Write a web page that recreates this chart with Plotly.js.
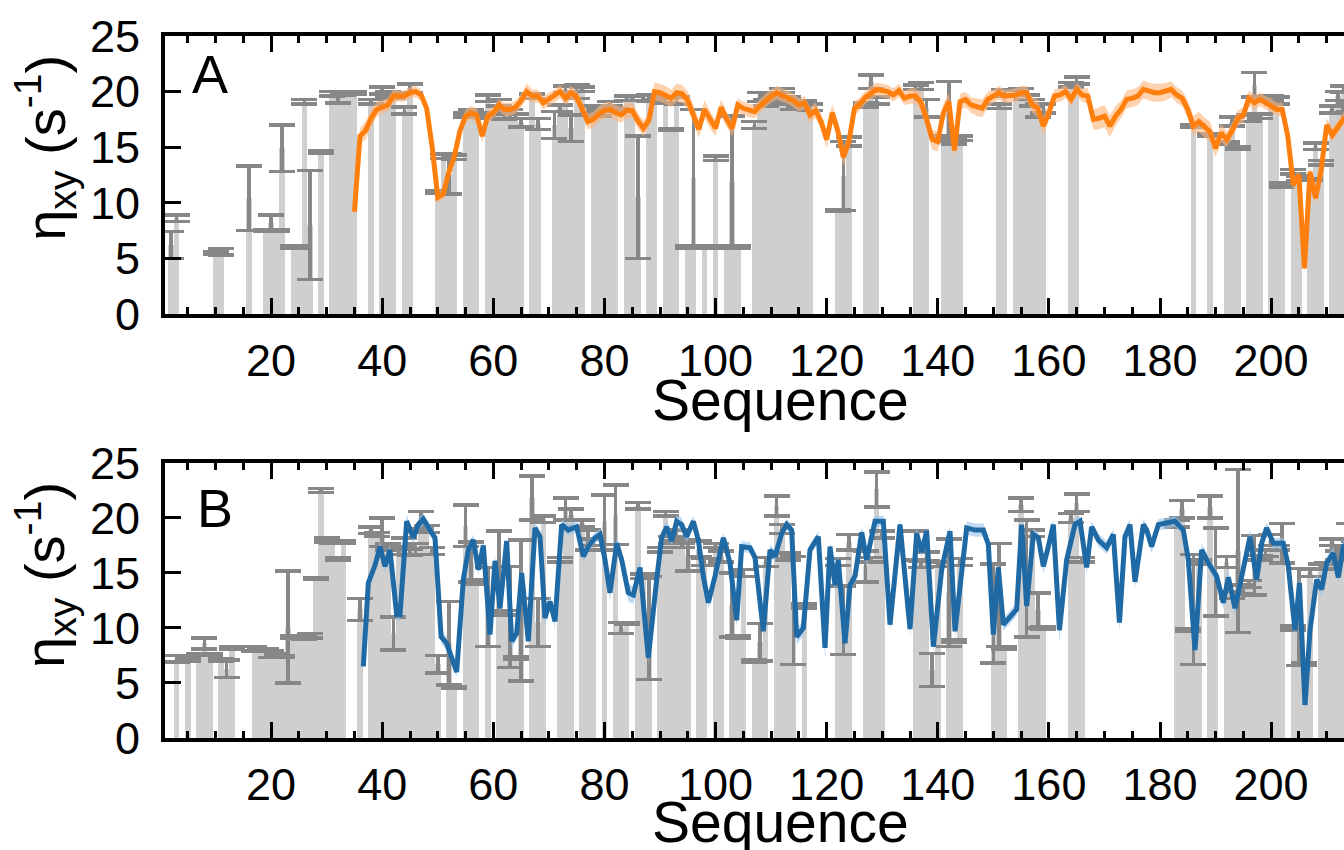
<!DOCTYPE html>
<html><head><meta charset="utf-8">
<script src="https://cdn.plot.ly/plotly-3.0.1.min.js"></script>
<style>html,body{margin:0;padding:0;overflow:hidden;background:#fff}#chart{width:1400px;height:850px}</style>
</head><body><div id="chart"></div>
<script>
// ---------- Panel A : bars ----------
const barSeqA = [2,3,10,11,16,19,20,21,22,24,25,26,27,29,31,32,33,34,35,38,40,41,42,44,45,50,51,52,53,55,56,57,59,60,61,62,63,64,65,67,68,71,72,73,74,75,76,78,79,80,81,82,84,85,86,88,89,91,92,93,95,96,98,100,102,103,104,107,108,109,110,111,112,113,114,115,116,117,122,123,124,127,128,129,136,137,138,141,142,143,144,151,152,154,155,156,157,158,159,164,165,186,189,192,193,194,196,197,198,200,201,202,204,205,207,208,209,211,212,213,214,215];
const barValA = [6.2,8.6,5.5,5.6,10.4,7.5,8.2,7.5,14.9,6.0,6.0,19.1,8.0,14.6,19.8,19.5,19.8,19.9,19.9,19.1,20.1,19.8,19.6,18.3,20.3,11.0,14.2,12.6,14.1,17.9,18.1,17.9,19.4,17.8,19.0,17.8,18.0,17.8,17.2,19.6,17.1,17.0,18.5,20.2,16.7,20.0,20.2,18.4,18.1,18.4,18.9,18.4,19.4,19.4,10.5,19.4,19.5,19.2,16.6,19.2,6.0,12.2,6.0,14.0,6.0,11.9,6.0,17.0,19.5,19.0,19.4,19.2,20.1,19.3,18.7,18.9,19.0,18.6,9.3,12.4,15.5,18.8,20.9,19.2,20.4,20.5,18.5,15.9,18.2,15.6,15.8,18.7,19.9,19.9,20.0,19.5,19.0,18.3,18.5,20.6,21.0,16.9,16.1,15.4,17.3,14.9,17.6,20.6,17.8,19.4,19.2,11.6,12.8,12.2,12.1,15.1,13.6,18.4,19.6,20.2,18.6,18.2];
const barErrA = [1.2,0.3,0.1,0.3,2.9,0.1,0.7,0.1,2.1,0.1,0.1,0.2,4.9,0.1,0.2,0.5,0.1,0.1,0.1,0.2,0.3,0.2,0.2,0.3,0.4,0.1,0.2,1.8,0.2,0.2,0.3,0.2,0.3,0.2,0.3,0.3,0.4,0.2,0.4,0.2,0.5,1.2,0.3,0.3,1.2,0.6,0.2,0.3,0.3,0.2,0.2,0.1,0.2,0.2,5.5,0.3,0.2,0.2,0.1,0.3,0.1,6.2,0.1,0.2,0.1,5.9,0.1,0.3,0.4,0.3,0.2,0.3,0.2,0.2,0.3,0.2,0.2,0.3,0.1,3.1,0.4,0.2,0.6,0.3,0.2,0.3,0.8,0.1,2.7,0.3,0.2,0.2,0.3,0.2,0.3,0.2,0.3,0.6,0.4,0.2,0.3,0.1,0.1,0.1,0.4,0.1,0.3,1.1,0.2,0.2,0.3,0.2,0.2,0.2,0.1,0.3,0.2,0.3,0.4,0.3,0.4,0.3];

// ---------- Panel A : orange line (residues from 35) ----------
const lineAFirstResidue = 35;
const lineAVal = [
 9.2,16.0,16.5,17.6,18.4,18.6,18.8,19.6,19.6,19.6,
 19.9,20.0,19.7,18.5,15.0,10.5,10.8,12.8,14.2,16.5,
 17.8,18.1,17.9,16.0,17.8,18.1,18.8,18.4,18.4,18.6,
 19.2,20.0,19.6,19.6,19.0,19.3,19.6,20.0,19.4,19.9,
 19.5,18.5,17.3,17.5,18.0,18.3,18.4,18.1,17.9,18.3,
 18.3,17.4,16.7,17.4,20.0,19.9,19.7,19.4,19.9,19.8,
 19.2,18.0,16.6,18.4,17.5,16.7,18.6,17.5,16.7,18.8,
 18.5,18.3,18.2,18.7,19.2,19.6,19.9,19.7,19.5,19.2,
 18.8,19.0,17.9,18.3,17.3,15.7,18.1,16.5,14.1,15.5,
 18.5,18.9,19.5,19.9,20.2,20.1,20.0,19.7,20.1,19.4,
 19.6,19.6,19.0,17.5,15.7,15.5,18.1,19.1,14.7,19.1,
 19.3,18.8,18.6,18.5,19.3,19.6,19.9,19.6,19.6,19.7,
 19.9,19.9,18.8,18.5,16.9,18.1,19.6,19.7,20.0,19.3,
 20.2,19.7,19.6,17.5,17.6,17.8,16.9,17.8,18.4,19.3,
 19.4,19.6,20.2,20.0,19.9,19.9,20.0,20.2,19.7,19.4,
 18.4,16.9,17.3,16.8,16.4,14.9,16.3,15.7,16.5,17.6,
 17.9,19.4,19.0,19.3,19.0,18.8,18.4,18.4,16.0,11.6,
 12.5,4.1,12.8,10.4,12.9,17.0,16.1,16.8,17.5,18.0,18.3];
const lineABand = [
 0.6,0.7,0.8,0.8,0.7,0.6,0.6,0.6,0.5,0.5,
 0.5,0.5,0.5,0.6,0.6,0.5,0.5,0.6,0.6,0.6,
 0.6,0.6,0.6,0.6,0.6,0.5,0.5,0.6,0.6,0.6,
 0.6,0.7,0.6,0.6,0.6,0.6,0.6,0.6,0.6,0.6,
 0.6,0.7,0.7,0.7,0.7,0.7,0.7,0.7,0.7,0.7,
 0.7,0.7,0.7,0.7,0.8,0.8,0.8,0.8,0.8,0.8,
 0.8,0.8,0.8,0.8,0.8,0.7,0.7,0.7,0.7,0.6,
 0.6,0.6,0.6,0.6,0.6,0.6,0.6,0.6,0.6,0.6,
 0.6,0.6,0.7,0.7,0.7,0.8,0.8,0.8,0.8,0.7,
 0.6,0.6,0.6,0.6,0.6,0.6,0.6,0.6,0.6,0.6,
 0.7,0.7,0.8,0.9,0.9,0.9,0.8,0.8,0.7,0.7,
 0.7,0.7,0.8,0.8,0.7,0.6,0.6,0.6,0.6,0.6,
 0.6,0.6,0.7,0.8,0.8,0.7,0.6,0.6,0.6,0.6,
 0.6,0.6,0.7,0.9,1.0,1.0,1.0,0.9,0.8,0.8,
 0.8,0.8,0.8,0.8,0.8,0.8,0.8,0.7,0.7,0.7,
 0.8,0.9,0.9,0.9,0.9,0.8,0.8,0.7,0.7,0.7,
 0.7,0.7,0.7,0.6,0.6,0.6,0.6,0.6,0.6,0.5,
 0.5,0.5,0.5,0.5,0.5,0.6,0.6,0.6,0.6,0.6,0.6];

// ---------- Panel B : bars ----------
const barSeqB = [3,5,7,8,9,11,12,13,17,18,19,20,21,22,23,24,25,26,27,28,29,30,31,32,33,36,38,39,40,41,42,43,44,45,46,47,48,49,50,52,53,55,56,57,59,61,62,63,64,65,67,68,69,72,73,74,76,77,78,80,82,83,84,86,87,88,90,91,92,93,94,95,97,98,100,101,103,104,105,107,108,109,111,112,113,114,116,122,123,124,127,128,129,130,136,137,138,139,140,142,143,144,150,151,152,155,156,157,158,159,164,165,166,183,184,185,186,187,189,190,192,193,194,195,196,197,198,199,200,201,202,204,205,206,207,209,210,211,212,213,214,215];
const barValB = [7.2,7.1,7.6,8.6,7.6,7.1,6.3,8.2,8.1,8.0,8.0,7.6,7.6,7.4,10.1,9.2,9.2,9.1,9.3,14.5,22.5,18.0,17.8,16.3,17.8,11.7,18.9,18.5,18.7,17.4,9.5,17.0,17.8,16.9,17.2,19.8,19.0,17.0,6.7,8.6,4.6,19.3,16.0,14.2,11.9,15.1,11.4,11.0,7.3,11.6,21.8,10.5,19.9,16.2,20.8,20.3,19.5,18.0,17.8,19.6,20.3,10.0,10.4,21.1,14.7,10.0,17.1,20.4,18.0,18.4,17.5,16.6,17.2,16.0,17.5,16.5,12.1,9.2,15.0,7.0,8.7,16.0,21.1,19.0,16.5,11.6,12.0,16.0,10.7,17.8,15.6,16.2,22.6,18.5,17.5,15.8,16.5,6.2,15.8,13.2,8.8,16.0,11.3,13.0,8.2,21.2,14.5,18.6,11.6,10.0,20.0,21.4,16.2,19.5,20.8,9.8,11.7,16.0,21.0,15.1,16.0,13.0,17.0,13.5,14.0,15.7,16.4,16.8,18.0,17.3,17.7,10.0,11.0,6.7,15.0,15.6,15.6,17.8,16.6,17.0,18.0,17.5];
const barErrB = [0.3,0.1,0.1,0.5,0.1,0.1,0.8,0.1,0.2,0.1,0.1,0.3,0.1,0.1,5.1,0.1,0.1,0.1,0.2,0.1,0.2,0.2,0.1,0.1,0.1,1.0,0.3,0.2,1.3,0.3,1.5,0.3,0.4,0.3,0.5,0.8,0.3,0.3,0.8,3.8,0.1,1.9,1.8,0.2,3.6,3.7,0.2,4.6,0.1,6.4,2.0,2.2,0.3,0.2,1.0,0.5,0.3,0.9,0.3,2.5,2.7,0.5,0.1,0.3,0.2,4.7,0.2,0.2,0.3,0.5,0.2,1.4,0.7,0.3,0.2,0.5,2.9,0.1,0.3,0.1,1.7,0.4,0.9,0.4,0.3,4.9,0.2,0.3,3.1,0.7,1.4,0.2,1.6,0.3,1.3,0.3,0.4,1.5,0.2,4.9,0.1,0.3,4.5,4.7,0.1,0.6,5.3,0.3,1.6,0.1,0.4,0.8,0.2,0.3,0.8,0.1,5.0,0.2,1.0,4.0,0.5,0.3,7.4,0.4,0.3,2.7,0.2,0.3,0.5,0.2,1.8,0.2,4.4,0.1,0.3,0.2,0.3,0.3,0.4,0.3,1.5,0.4];

// ---------- Panel B : blue line ----------
const lineBSeq = [
 36.6,37.5,38.7,39.6,40.5,41.4,42.6,43.2,44.4,45.6,
 46.5,47.4,48.6,49.5,50.6,51.6,53.4,54.6,55.5,56.4,
 57.3,58.2,59.4,60.3,61.2,62.4,63.3,64.2,65.1,66.3,
 67.5,68.4,69.3,70.2,71.1,72.3,73.5,75.0,76.2,77.1,
 78.3,79.2,80.1,81.0,82.2,83.1,84.3,85.2,86.4,87.9,
 89.4,90.3,91.2,92.1,93.0,93.9,94.8,96.0,96.9,97.8,
 98.7,99.9,101.4,102.6,103.8,104.7,106.2,107.1,108.6,109.8,
 110.7,111.9,112.8,113.7,114.6,115.8,117.0,118.5,119.7,120.6,
 121.5,122.1,123.3,124.2,125.1,126.3,127.2,128.7,130.2,131.4,
 133.2,135.0,136.2,137.1,138.0,139.2,140.7,142.2,143.1,145.2,
 146.7,148.2,149.1,150.0,150.9,151.8,154.2,155.1,156.0,157.2,
 158.1,159.0,159.9,160.8,161.9,163.2,164.7,165.6,166.8,167.7,
 168.9,170.4,171.6,172.7,173.7,174.6,175.5,177.0,177.6,178.5,
 179.7,181.2,182.7,184.2,185.1,186.3,187.5,188.7,190.2,191.4,
 192.3,193.5,194.4,196.2,197.4,198.3,199.2,200.4,202.2,203.1,
 204.3,205.1,206.1,207.0,208.2,209.1,210.0,211.2,212.1,213.0,214.5];
const lineBVal = [
 6.5,14.1,15.7,17.4,15.6,17.1,11.2,11.2,19.7,18.2,
 19.4,19.9,18.9,18.2,9.2,8.6,6.0,14.4,17.1,18.0,
 15.3,17.5,9.4,16.1,11.8,17.9,8.8,9.5,15.0,8.8,
 19.1,18.3,10.9,12.4,10.6,19.4,18.9,19.2,16.5,17.4,
 18.2,18.5,16.2,13.2,17.7,16.2,13.2,13.0,15.5,7.3,
 14.4,18.2,19.2,17.9,19.7,19.4,18.3,19.7,18.0,14.7,
 12.3,14.7,18.2,15.9,10.7,17.4,17.3,16.4,9.7,17.1,
 16.5,18.6,19.4,18.9,9.2,10.0,17.1,18.3,8.2,17.4,
 13.9,16.2,8.6,13.9,14.7,18.7,16.2,19.7,19.7,10.3,
 19.4,9.9,18.6,16.9,18.8,8.3,15.3,18.8,9.7,19.1,
 18.9,18.9,17.6,9.4,15.5,10.3,11.7,19.4,12.0,18.5,
 18.2,15.6,17.4,19.4,9.8,16.2,19.4,19.7,15.5,19.2,
 18.0,17.3,18.5,10.5,18.3,19.4,14.2,19.4,18.9,17.4,
 19.4,19.5,19.7,18.9,16.2,8.0,17.1,15.9,14.7,12.3,
 14.6,11.8,13.8,18.3,14.4,17.7,19.1,17.7,17.7,15.6,
 9.8,14.1,3.0,9.8,14.4,13.5,15.9,16.8,14.6,17.4,18.0];
const lineBBand = [
 0.5,0.6,0.5,0.5,0.5,0.5,0.6,0.6,0.6,0.5,
 0.6,0.5,0.5,0.5,0.6,0.6,0.5,0.6,0.6,0.5,
 0.5,0.5,0.6,0.5,0.6,0.5,0.6,0.6,0.5,0.6,
 0.5,0.5,0.6,0.6,0.6,0.5,0.5,0.5,0.5,0.5,
 0.5,0.5,0.6,0.7,0.6,0.6,0.8,0.8,0.7,0.7,
 0.6,0.5,0.6,0.5,0.6,0.6,0.5,0.5,0.5,0.6,
 0.6,0.6,0.5,0.6,0.6,0.5,0.5,0.6,0.7,0.5,
 0.5,0.5,0.5,0.5,0.7,0.7,0.5,0.5,0.9,0.5,
 0.6,0.5,0.6,0.6,0.6,0.5,0.6,0.5,0.5,0.6,
 0.5,0.7,0.5,0.5,0.5,0.7,0.6,0.5,0.7,0.6,
 0.6,0.6,0.5,0.6,0.5,0.6,0.6,0.5,0.6,0.5,
 0.5,0.6,0.6,0.5,1.0,0.6,0.5,0.5,0.6,0.5,
 0.6,0.6,0.5,0.8,0.5,0.5,0.6,0.5,0.5,0.6,
 0.5,0.5,0.5,0.5,0.6,0.7,0.6,0.6,0.6,0.6,
 0.6,0.6,0.6,0.6,0.6,0.6,0.5,0.5,0.5,0.5,
 0.6,0.6,0.5,0.6,0.6,0.6,0.6,0.6,0.6,0.6,0.5];

// ---------- axis tick labels ----------
const yTickVals = [0,5,10,15,20,25];
const yTickText = ['0','5','10','15','20','25'];
const xTickVals = [20,40,60,80,100,120,140,160,180,200];
const xTickText = ['20','40','60','80','100','120','140','160','180','200'];

const lineASeq = lineAVal.map((v, i) => lineAFirstResidue + i);
const FONT = 'Liberation Sans, Arial, sans-serif';

function panelTraces(xa, ya, bSeq, bVal, bErr, lSeq, lVal, lBand, lineColor, bandColor) {
  return [
    {type:'bar', x:bSeq, y:bVal, width:1, xaxis:xa, yaxis:ya,
     marker:{color:'#cfcfcf', line:{width:0}},
     error_y:{type:'data', array:bErr, visible:true, color:'#878787', thickness:3.5, width:13},
     hoverinfo:'x+y', showlegend:false},
    {type:'scatter', mode:'lines', x:lSeq, y:lVal.map((v,i)=>v+lBand[i]), xaxis:xa, yaxis:ya,
     line:{width:0, color:bandColor}, hoverinfo:'skip', showlegend:false},
    {type:'scatter', mode:'lines', x:lSeq, y:lVal.map((v,i)=>v-lBand[i]), xaxis:xa, yaxis:ya,
     line:{width:0, color:bandColor}, fill:'tonexty', fillcolor:bandColor, hoverinfo:'skip', showlegend:false},
    {type:'scatter', mode:'lines', x:lSeq, y:lVal, xaxis:xa, yaxis:ya,
     line:{width:5, color:lineColor}, showlegend:false}
  ];
}

const data = [
  ...panelTraces('x','y', barSeqA, barValA, barErrA, lineASeq, lineAVal, lineABand, '#ff7f0e', 'rgba(253,180,120,0.6)'),
  ...panelTraces('x2','y2', barSeqB, barValB, barErrB, lineBSeq, lineBVal, lineBBand, '#1f6aa5', 'rgba(150,195,235,0.6)')
];

function xAxis(anchor) {
  return {anchor:anchor, domain:[0,1], range:[0.9, 222.3],
    tickmode:'array', tickvals:xTickVals, ticktext:xTickText,
    ticks:'inside', ticklen:16, tickwidth:3, tickcolor:'#000',
    showline:true, linewidth:4, linecolor:'#000', mirror:'ticks',
    showgrid:false, zeroline:false, ticklabelstandoff:4,
    tickfont:{family:FONT, size:45, color:'#000'},
    minor:{tickmode:'linear', tick0:0, dtick:5, ticks:'inside', ticklen:7, tickwidth:3, tickcolor:'#000', showgrid:false}};
}
function yAxis(anchor, dom) {
  return {anchor:anchor, domain:dom, range:[0,25],
    tickmode:'array', tickvals:yTickVals, ticktext:yTickText,
    ticks:'inside', ticklen:16, tickwidth:3, tickcolor:'#000',
    showline:true, linewidth:4, linecolor:'#000', mirror:'ticks',
    showgrid:false, zeroline:false, ticklabelstandoff:12,
    tickfont:{family:FONT, size:45, color:'#000'}};
}

const ytitle = 'η<sub>xy</sub> (s<sup>-1</sup>)';
const layout = {
  width:1400, height:850, margin:{l:165, r:5, t:0, b:0},
  paper_bgcolor:'#fff', plot_bgcolor:'#fff', bargap:0,
  font:{family:FONT, color:'#000'},
  xaxis:xAxis('y'), yaxis:yAxis('x',[0.6306,0.9576]),
  xaxis2:xAxis('y2'), yaxis2:yAxis('x2',[0.1318,0.4553]),
  annotations:[
    {text:'A', xref:'paper', yref:'paper', x:0.0366, y:0.913, xanchor:'center', yanchor:'middle', showarrow:false, font:{family:FONT, size:54}},
    {text:'B', xref:'paper', yref:'paper', x:0.0407, y:0.4024, xanchor:'center', yanchor:'middle', showarrow:false, font:{family:FONT, size:54}},
    {text:'Sequence', xref:'paper', yref:'paper', x:0.5, y:0.530, xanchor:'center', yanchor:'middle', showarrow:false, font:{family:FONT, size:57}},
    {text:'Sequence', xref:'paper', yref:'paper', x:0.5, y:0.033, xanchor:'center', yanchor:'middle', showarrow:false, font:{family:FONT, size:57}},
    {text:ytitle, xref:'paper', yref:'paper', x:-0.0976, y:0.826, xanchor:'center', yanchor:'middle', textangle:-90, showarrow:false, font:{family:FONT, size:56}},
    {text:ytitle, xref:'paper', yref:'paper', x:-0.0976, y:0.3235, xanchor:'center', yanchor:'middle', textangle:-90, showarrow:false, font:{family:FONT, size:56}}
  ]
};

Plotly.newPlot('chart', data, layout, {displayModeBar:false, staticPlot:true});
</script>
</body></html>
